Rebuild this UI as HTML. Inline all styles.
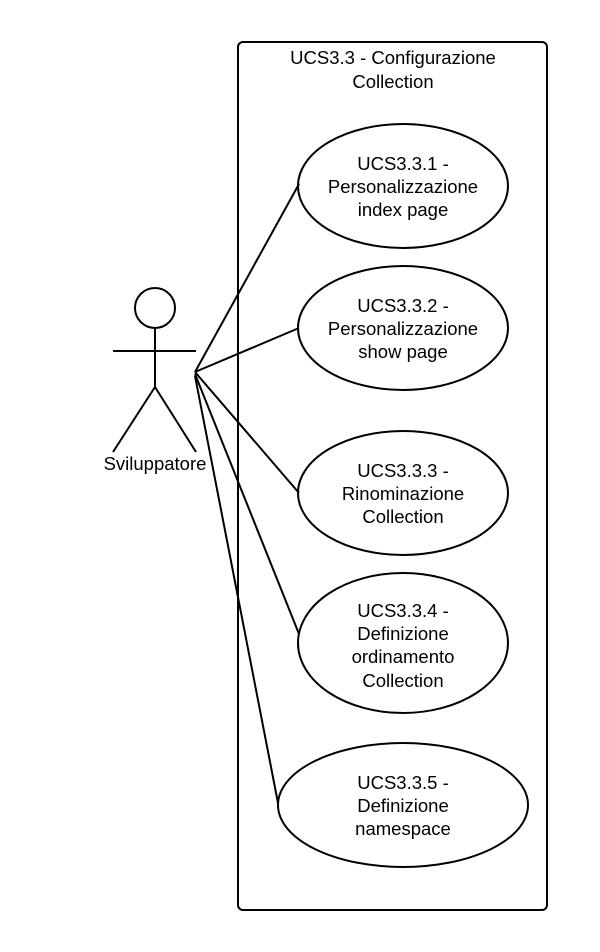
<!DOCTYPE html>
<html><head><style>body{margin:0;background:#fff}svg{display:block}</style></head><body>
<svg width="600" height="952" xmlns="http://www.w3.org/2000/svg" font-family="Liberation Sans, sans-serif" font-size="18.5" text-anchor="middle" fill="none" stroke="#000" stroke-width="2">
<rect x="238" y="42" width="309" height="868" rx="5"/>
<circle cx="155" cy="308" r="20"/>
<line x1="155" y1="328" x2="155" y2="387"/>
<line x1="113" y1="351" x2="196" y2="351"/>
<line x1="155" y1="387" x2="113" y2="452"/>
<line x1="155" y1="387" x2="196" y2="452"/>
<line x1="195" y1="372" x2="299" y2="184"/>
<line x1="195" y1="372" x2="299" y2="328"/>
<line x1="195" y1="372" x2="299" y2="493"/>
<line x1="195" y1="374" x2="299" y2="634"/>
<line x1="195" y1="376" x2="278" y2="803"/>
<ellipse cx="403" cy="186" rx="105" ry="62"/>
<ellipse cx="403" cy="328" rx="105" ry="62"/>
<ellipse cx="403" cy="493" rx="105" ry="62"/>
<ellipse cx="403" cy="643" rx="105" ry="70"/>
<ellipse cx="403" cy="805" rx="125" ry="62"/>
<g fill="#000" stroke="none">
<text x="393" y="64">UCS3.3 - Configurazione</text>
<text x="393" y="88">Collection</text>
<text x="155" y="470">Sviluppatore</text>
<text x="403" y="170">UCS3.3.1 -</text><text x="403" y="193">Personalizzazione</text><text x="403" y="216">index page</text>
<text x="403" y="312">UCS3.3.2 -</text><text x="403" y="335">Personalizzazione</text><text x="403" y="358">show page</text>
<text x="403" y="477">UCS3.3.3 -</text><text x="403" y="500">Rinominazione</text><text x="403" y="523">Collection</text>
<text x="403" y="617">UCS3.3.4 -</text><text x="403" y="640">Definizione</text><text x="403" y="663">ordinamento</text><text x="403" y="687">Collection</text>
<text x="403" y="789">UCS3.3.5 -</text><text x="403" y="812">Definizione</text><text x="403" y="835">namespace</text>
</g>
</svg>
</body></html>
